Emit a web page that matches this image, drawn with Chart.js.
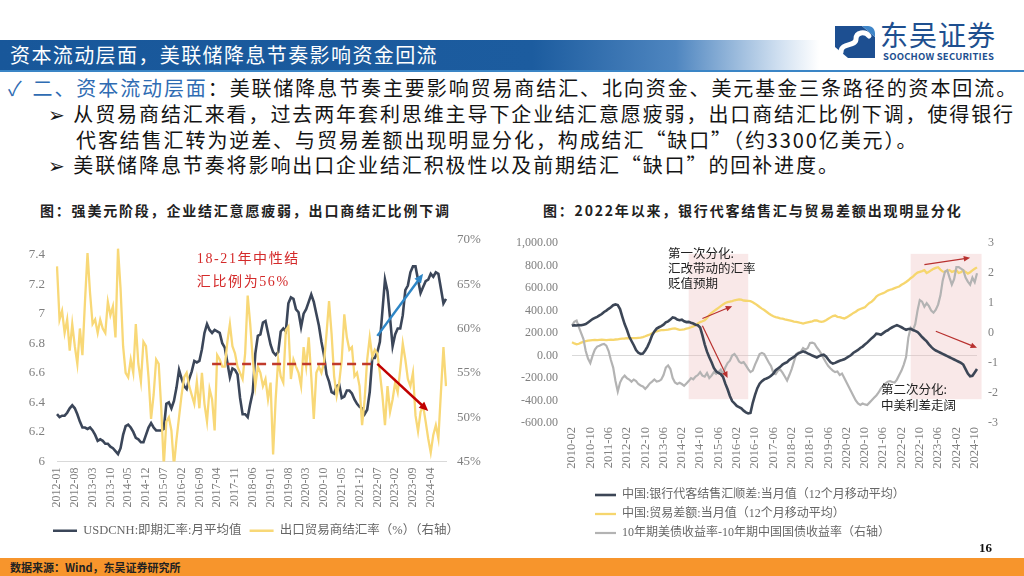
<!DOCTYPE html>
<html lang="zh-CN">
<head>
<meta charset="utf-8">
<title>资本流动层面，美联储降息节奏影响资金回流</title>
<script src="https://cdn.jsdelivr.net/npm/chart.js@4.4.1/dist/chart.umd.min.js"></script>
<style>
html,body{margin:0;padding:0;}
body{width:1024px;height:576px;overflow:hidden;background:#fff;position:relative;font-family:"Noto Sans CJK SC","Noto Sans",sans-serif;color:#141414;}
.a{position:absolute;white-space:nowrap;}
#band{left:0;top:40px;width:1024px;height:30px;background:linear-gradient(90deg,#18579a 0%,#1c5c9f 52%,#4f86c0 66%,#cfdff0 76%,#ffffff 80%);}
#bandline{left:0;top:70px;width:1024px;height:2px;background:#3a85c6;}
#title{left:10px;top:40px;height:30px;line-height:30px;font-size:20px;color:#fff;letter-spacing:1.4px;}
.txt{font-size:20px;line-height:26px;letter-spacing:1.9px;color:#141414;}
.blue{color:#2f6cb3;}
.ctitle{font-size:14px;font-weight:700;letter-spacing:1.8px;color:#222;line-height:20px;}
#footer{left:0;top:558px;width:1024px;height:18px;background:#f7952c;}
#src{left:10px;top:558px;line-height:18px;font-size:11px;font-weight:700;color:#222;}
#pg{left:979px;top:540px;font-size:13px;font-weight:700;font-family:"Liberation Serif",serif;color:#111;}
#logoTxt{left:880px;top:16px;font-size:28px;line-height:36px;color:#1e4f8f;letter-spacing:1px;}
#logoEn{left:883px;top:50px;font-size:9.5px;line-height:12px;font-weight:700;color:#1e4f8f;letter-spacing:0.2px;}
canvas{position:absolute;}
</style>
</head>
<body>
<div class="a" id="band"></div>
<div class="a" id="bandline"></div>
<div class="a" id="title">资本流动层面，美联储降息节奏影响资金回流</div>

<svg class="a" style="left:832px;top:23px" width="46" height="38" viewBox="0 0 46 38">
  <path d="M3 3 H30 L43 14 V35 H16 L3 24 Z" fill="#1d4f91"/>
  <path d="M9 29 C 9 19, 24 24, 24 16 C 24 9, 33 8, 37 13" stroke="#ffffff" stroke-width="5" fill="none" stroke-linecap="round"/>
  <path d="M30 3 H36 C 41 3, 43 7, 43 11 V14 Z" fill="#3f86c9"/>
</svg>
<div class="a" id="logoTxt">东吴证券</div>
<div class="a" id="logoEn">SOOCHOW SECURITIES</div>

<div class="a txt" style="left:8px;top:75px;"><span class="blue"><span style="margin-right:9px">✓</span>二、资本流动层面</span>：美联储降息节奏主要影响贸易商结汇、北向资金、美元基金三条路径的资本回流。</div>
<div class="a txt" style="left:48px;top:101px;">➢ 从贸易商结汇来看，过去两年套利思维主导下企业结汇意愿疲弱，出口商结汇比例下调，使得银行</div>
<div class="a txt" style="left:76px;top:127px;">代客结售汇转为逆差、与贸易差额出现明显分化，构成结汇“缺口”（约3300亿美元）。</div>
<div class="a txt" style="left:48px;top:152px;">➢ 美联储降息节奏将影响出口企业结汇积极性以及前期结汇“缺口”的回补进度。</div>

<div class="a ctitle" style="left:40px;top:200px;">图：强美元阶段，企业结汇意愿疲弱，出口商结汇比例下调</div>
<div class="a ctitle" style="left:543px;top:200px;">图：2022年以来，银行代客结售汇与贸易差额出现明显分化</div>

<canvas id="cL" width="500" height="330" style="left:0;top:220px;width:500px;height:330px;"></canvas>
<canvas id="cR" width="520" height="327" style="left:500px;top:222px;width:520px;height:327px;"></canvas>

<div class="a" id="pg">16</div>
<div class="a" id="footer"></div>
<div class="a" id="src">数据来源：Wind，东吴证券研究所</div>

<script>
// ---------------- LEFT CHART DATA (monthly, 2012-01 .. 2024-10) ----------------
const leftStart = [2012, 1];
const usdcnh = [
  6.32,6.30,6.31,6.31,6.33,6.36,6.38,6.36,6.32,6.27,6.23,6.23,
  6.22,6.23,6.21,6.18,6.14,6.15,6.14,6.12,6.12,6.10,6.09,6.07,
  6.05,6.09,6.18,6.24,6.25,6.23,6.20,6.16,6.15,6.13,6.13,6.18,
  6.23,6.26,6.23,6.21,6.21,6.21,6.22,6.39,6.40,6.36,6.41,6.50,
  6.62,6.56,6.51,6.49,6.56,6.61,6.68,6.67,6.68,6.76,6.87,6.93,
  6.89,6.87,6.89,6.88,6.87,6.80,6.77,6.67,6.57,6.63,6.62,6.59,
  6.43,6.32,6.32,6.30,6.39,6.47,6.73,6.85,6.86,6.94,6.95,6.87,
  6.79,6.74,6.72,6.74,6.88,6.90,6.88,7.07,7.11,7.10,7.03,7.01,
  6.91,7.00,7.03,7.08,7.13,7.08,7.00,6.92,6.81,6.72,6.59,6.54,
  6.47,6.46,6.51,6.52,6.43,6.44,6.48,6.48,6.46,6.42,6.39,6.37,
  6.36,6.32,6.35,6.47,6.70,6.70,6.74,6.81,7.02,7.23,7.15,6.97,
  6.78,6.86,6.90,6.90,6.99,7.16,7.19,7.28,7.32,7.32,7.23,7.14,
  7.18,7.22,7.23,7.27,7.25,7.28,7.27,7.17,7.07,7.10
];
const settleRatio = [
  67.0,61.0,62.0,59.5,61.0,57.5,60.5,58.0,56.0,60.0,57.0,63.0,
  68.5,64.0,60.5,61.0,59.5,61.0,60.0,59.5,63.0,61.5,62.5,59.0,
  69.0,64.5,58.0,55.0,54.5,56.5,55.0,60.5,56.0,54.0,58.5,58.0,
  54.5,49.8,52.5,56.5,56.0,51.0,44.5,49.5,50.0,48.5,44.5,47.5,
  50.0,52.5,54.5,55.0,53.5,52.5,51.5,54.0,51.0,55.0,51.5,49.5,
  53.2,52.0,48.5,57.0,56.5,55.7,55.7,58.5,60.5,58.0,57.2,55.7,
  55.0,54.3,57.2,63.7,60.5,56.5,53.5,55.7,55.0,53.5,54.3,52.0,
  53.9,45.8,52.0,56.5,54.6,53.9,59.8,60.2,54.3,56.5,55.7,55.0,
  53.5,57.9,55.7,59.0,54.6,49.8,55.0,55.7,55.0,56.1,59.4,63.1,
  59.4,54.6,52.4,53.9,56.5,61.6,59.0,57.6,57.9,54.6,55.0,53.5,
  49.1,52.0,56.5,59.0,56.8,57.6,57.2,55.0,52.4,49.1,53.5,50.6,
  52.0,53.9,52.8,55.4,58.3,56.5,54.3,53.5,55.0,50.2,48.4,50.6,
  51.3,49.5,47.6,46.0,48.0,49.1,47.6,52.8,57.9,53.5
];
const leftYTicks = [6, 6.2, 6.4, 6.6, 6.8, 7, 7.2, 7.4];
const leftY1Ticks = [45, 50, 55, 60, 65, 70];
const leftTickEvery = 7;
const leftSeriesNames = ['USDCNH:即期汇率:月平均值', '出口贸易商结汇率（%）（右轴）'];
const leftNote = ['18-21年中性结', '汇比例为56%'];

// ---------------- RIGHT CHART DATA (monthly, 2010-02 .. 2024-11) ----------------
const rightStart = [2010, 2];
const bankNet = [
  265,270,268,272,270,275,280,295,310,325,
  335,345,358,370,388,400,416,430,448,455,
  450,414,345,280,230,170,130,92,50,25,
  15,18,45,80,125,180,215,240,252,262,
  275,295,305,320,340,335,320,315,320,305,
  298,300,292,285,275,270,250,180,100,35,
  -15,-60,-110,-140,-155,-165,-190,-250,-300,-360,
  -405,-425,-448,-458,-470,-490,-505,-515,-510,-420,
  -350,-290,-250,-228,-212,-204,-195,-180,-161,-130,
  -115,-100,-80,-68,-58,-38,-25,-12,5,20,
  28,38,30,20,11,0,-8,-17,-5,2,
  8,-8,-35,-60,-72,-65,-55,-46,-40,-33,
  -20,-8,5,25,38,50,68,80,98,115,
  135,155,172,195,192,185,200,215,225,241,
  252,262,270,262,252,240,230,237,238,228,
  220,210,188,165,145,126,100,78,58,45,
  35,25,15,5,-5,-15,-25,-35,-45,-55,
  -65,-80,-120,-160,-185,-180,-150,-120
];
const tradeBal = [
  118,108,100,105,115,122,128,132,136,138,
  140,138,140,142,140,138,140,142,140,143,
  145,148,150,152,155,153,155,156,155,158,
  160,165,172,180,188,198,208,216,222,226,
  227,228,230,235,240,242,235,228,230,234,
  240,245,252,260,270,285,298,305,315,335,
  360,380,395,410,425,440,455,468,475,480,
  485,492,496,500,497,490,488,486,484,475,
  462,448,432,418,405,390,375,362,350,343,
  338,332,328,322,318,313,308,303,300,296,
  290,285,290,295,300,305,312,313,305,300,
  305,315,328,340,352,356,345,342,335,330,
  340,352,365,380,390,405,415,422,430,450,
  468,480,500,525,540,548,555,565,578,586,
  592,600,608,615,630,642,655,670,688,702,
  722,738,745,752,760,735,745,760,772,780,
  786,765,748,745,755,760,745,752,758,735,
  742,758,745,730,742,758,772,785
];
const yieldSpread = [
  0.25,0.38,0.42,0.2,0.0,-0.2,-0.6,-0.85,-1.0,-0.75,
  -0.55,-0.45,-0.42,-0.38,-0.36,-0.42,-0.6,-0.9,-1.15,-1.6,
  -1.95,-1.65,-1.5,-1.42,-1.5,-1.55,-1.62,-1.55,-1.6,-1.7,
  -1.75,-1.78,-1.86,-1.78,-1.68,-1.62,-1.55,-1.62,-1.6,-1.55,
  -1.4,-1.15,-1.08,-1.2,-1.5,-1.65,-1.7,-1.66,-1.7,-1.76,
  -1.68,-1.6,-1.5,-1.54,-1.45,-1.4,-1.3,-1.42,-1.45,-1.33,
  -1.5,-1.42,-1.3,-1.36,-1.3,-1.22,-1.36,-1.15,-1.0,-0.92,
  -0.75,-0.7,-0.8,-0.95,-1.0,-0.97,-1.08,-1.2,-1.3,-1.25,
  -1.05,-0.88,-0.7,-0.66,-0.7,-0.84,-0.98,-1.1,-1.33,-1.37,
  -1.25,-1.22,-1.32,-1.45,-1.58,-1.4,-1.2,-0.95,-0.7,-0.65,
  -0.62,-0.5,-0.55,-0.5,-0.33,-0.32,-0.35,-0.48,-0.58,-0.7,
  -0.85,-0.98,-1.1,-1.18,-1.25,-1.3,-1.28,-1.4,-1.35,-1.5,
  -1.65,-1.8,-1.95,-2.1,-2.25,-2.35,-2.4,-2.35,-2.38,-2.4,
  -2.32,-2.24,-2.16,-2.08,-1.98,-1.85,-1.78,-1.68,-1.62,-1.6,
  -1.63,-1.65,-1.55,-1.4,-1.25,-1.05,-0.8,-0.15,0.18,0.1,
  0.3,0.75,1.1,1.05,0.88,1.0,0.9,0.75,0.68,0.78,
  0.95,1.25,1.75,2.05,2.1,1.85,1.62,1.8,2.2,2.2,
  2.15,2.1,1.85,1.72,1.62,1.85,1.7,2.0
];
const rightYTicks = [-600, -400, -200, 0, 200, 400, 600, 800, 1000];
const rightY1Ticks = [-3, -2, -1, 0, 1, 2, 3];
const rightTickEvery = 8;
const rightSeriesNames = ['中国:银行代客结售汇顺差:当月值（12个月移动平均）', '中国:贸易差额:当月值（12个月移动平均）', '10年期美债收益率-10年期中国国债收益率（右轴）'];
const note1 = ['第一次分化:', '汇改带动的汇率', '贬值预期'];
const note2 = ['第二次分化:', '中美利差走阔'];

// ---------------- helpers ----------------
function monthLabels(start, count) {
  const out = [];
  for (let k = 0; k < count; k++) {
    const t = start[1] - 1 + k;
    out.push((start[0] + Math.floor(t / 12)) + '-' + String(t % 12 + 1).padStart(2, '0'));
  }
  return out;
}
function monthIndex(start, label) {
  const [y, m] = label.split('-').map(Number);
  return (y - start[0]) * 12 + (m - start[1]);
}
const leftLabels = monthLabels(leftStart, usdcnh.length);
const rightLabels = monthLabels(rightStart, bankNet.length);

const serif = '"Liberation Serif","Times New Roman","Noto Sans CJK SC",serif';
const tickColor = '#7f7f7f';

const legendShift = {
  id: 'legendShift',
  afterLayout(chart, args, opts) {
    if (chart.legend && opts && opts.dx) {
      chart.legend.left += opts.dx;
      chart.legend.right += opts.dx;
    }
  }
};

function drawArrow(ctx, x1, y1, x2, y2, color, width, head) {
  const ang = Math.atan2(y2 - y1, x2 - x1);
  ctx.save();
  ctx.strokeStyle = color; ctx.fillStyle = color; ctx.lineWidth = width;
  ctx.beginPath();
  ctx.moveTo(x1, y1);
  ctx.lineTo(x2 - Math.cos(ang) * head * 0.8, y2 - Math.sin(ang) * head * 0.8);
  ctx.stroke();
  ctx.beginPath();
  ctx.moveTo(x2, y2);
  ctx.lineTo(x2 - head * Math.cos(ang - 0.42), y2 - head * Math.sin(ang - 0.42));
  ctx.lineTo(x2 - head * Math.cos(ang + 0.42), y2 - head * Math.sin(ang + 0.42));
  ctx.closePath();
  ctx.fill();
  ctx.restore();
}

const annot = {
  id: 'annot',
  beforeDatasetsDraw(chart, args, o) {
    const ctx = chart.ctx, xs = chart.scales.x;
    (o.boxes || []).forEach(b => {
      const ys = chart.scales[b.axis];
      const x1 = xs.getPixelForValue(monthIndex(o.start, b.x1));
      const x2 = xs.getPixelForValue(monthIndex(o.start, b.x2));
      const y1 = ys.getPixelForValue(b.y1), y2 = ys.getPixelForValue(b.y2);
      ctx.save(); ctx.fillStyle = b.color;
      ctx.fillRect(x1, Math.min(y1, y2), x2 - x1, Math.abs(y2 - y1));
      ctx.restore();
    });
  },
  afterDatasetsDraw(chart, args, o) {
    const ctx = chart.ctx, xs = chart.scales.x;
    const P = (lab, axis, v) => [xs.getPixelForValue(monthIndex(o.start, lab)), chart.scales[axis].getPixelForValue(v)];
    (o.lines || []).forEach(l => {
      const [x1, y1] = P(l.x1, l.axis, l.y1), [x2, y2] = P(l.x2, l.axis, l.y2);
      ctx.save(); ctx.strokeStyle = l.color; ctx.lineWidth = l.width; ctx.setLineDash(l.dash || []);
      ctx.beginPath(); ctx.moveTo(x1, y1); ctx.lineTo(x2, y2); ctx.stroke(); ctx.restore();
    });
    (o.arrows || []).forEach(a => {
      const [x1, y1] = P(a.x1, a.axis, a.y1), [x2, y2] = P(a.x2, a.axis, a.y2);
      drawArrow(ctx, x1, y1, x2, y2, a.color, a.width, a.head);
    });
    (o.texts || []).forEach(t => {
      const [x, y] = P(t.x, t.axis, t.y);
      ctx.save();
      ctx.font = t.font;
      if (t.spacing) { ctx.letterSpacing = t.spacing; }
      ctx.textBaseline = 'middle'; ctx.textAlign = 'left';
      ctx.fillStyle = t.color;
      t.lines.forEach((s, k) => ctx.fillText(s, x, y + k * t.lh));
      ctx.restore();
    });
  }
};

// ---------------- LEFT CHART ----------------
new Chart(document.getElementById('cL'), {
  type: 'line',
  data: {
    labels: leftLabels,
    datasets: [
      { label: leftSeriesNames[0], data: usdcnh, yAxisID: 'y', borderColor: '#3b4659', backgroundColor: '#3b4659',
        borderWidth: 2.6, pointRadius: 0, tension: 0, order: 1 },
      { label: leftSeriesNames[1], data: settleRatio, yAxisID: 'y1', borderColor: '#f8d877', backgroundColor: '#f8d877',
        borderWidth: 2.3, pointRadius: 0, tension: 0, order: 0 }
    ]
  },
  options: {
    responsive: false, animation: false, maintainAspectRatio: false,
    layout: { padding: { top: 17, bottom: 3, left: 0, right: 0 } },
    plugins: {
      legend: {
        position: 'bottom', align: 'start',
        labels: { usePointStyle: true, pointStyle: 'line', pointStyleWidth: 24, padding: 8,
          font: { family: serif, size: 12.5 }, color: '#666',
          sort: (a, b) => a.datasetIndex - b.datasetIndex }
      },
      tooltip: { enabled: false },
      legendShift: { dx: 45 },
      annot: {
        start: leftStart,
        lines: [ { x1: '2017-02', x2: '2022-07', axis: 'y1', y1: 56, y2: 56, color: '#c0392b', width: 2.6, dash: [9, 6] } ],
        arrows: [
          { x1: '2022-07', y1: 56, x2: '2024-03', y2: 50.7, axis: 'y1', color: '#c00000', width: 2.5, head: 10 },
          { x1: '2022-07', y1: 6.85, x2: '2024-01', y2: 7.27, axis: 'y', color: '#2e86c6', width: 2.5, head: 10 }
        ],
        texts: [ { x: '2016-08', y: 7.37, axis: 'y', lines: leftNote, lh: 23, color: '#d42a2a',
          font: '14px "Liberation Serif","Noto Sans CJK SC"', spacing: '1.6px' } ]
      }
    },
    scales: {
      x: {
        type: 'category', offset: false,
        grid: { display: false, drawTicks: false },
        border: { display: true, color: '#d9d9d9', width: 1 },
        ticks: { autoSkip: false, maxRotation: 90, minRotation: 90, padding: 6,
          callback: (v, i) => (i % leftTickEvery === 0 ? leftLabels[i] : null),
          font: { family: serif, size: 12 }, color: tickColor },
        afterFit: s => { s.height = 55; }
      },
      y: {
        position: 'left', min: 6, max: 7.5,
        grid: { display: false, drawTicks: false }, border: { display: false },
        afterBuildTicks: s => { s.ticks = leftYTicks.map(v => ({ value: v })); },
        ticks: { padding: 12, font: { family: serif, size: 13 }, color: tickColor,
          callback: v => String(Math.round(v * 10) / 10) },
        afterFit: s => { s.width = 57; }
      },
      y1: {
        position: 'right', min: 45, max: 70,
        grid: { display: false, drawTicks: false }, border: { display: false },
        afterBuildTicks: s => { s.ticks = leftY1Ticks.map(v => ({ value: v })); },
        ticks: { padding: 11, font: { family: serif, size: 13 }, color: tickColor, callback: v => v + '%' },
        afterFit: s => { s.width = 54; }
      }
    }
  },
  plugins: [legendShift, annot]
});

// ---------------- RIGHT CHART ----------------
new Chart(document.getElementById('cR'), {
  type: 'line',
  data: {
    labels: rightLabels,
    datasets: [
      { label: rightSeriesNames[0], data: bankNet, yAxisID: 'y', borderColor: '#3c4656', backgroundColor: '#3c4656',
        borderWidth: 2.6, pointRadius: 0, tension: 0, order: 0 },
      { label: rightSeriesNames[1], data: tradeBal, yAxisID: 'y', borderColor: '#f6d66e', backgroundColor: '#f6d66e',
        borderWidth: 2.3, pointRadius: 0, tension: 0, order: 2 },
      { label: rightSeriesNames[2], data: yieldSpread, yAxisID: 'y1', borderColor: '#b3b3b3', backgroundColor: '#b3b3b3',
        borderWidth: 2.2, pointRadius: 0, tension: 0, order: 1 }
    ]
  },
  options: {
    responsive: false, animation: false, maintainAspectRatio: false,
    layout: { padding: { top: 15, bottom: 0, left: 0, right: 0 } },
    plugins: {
      legend: {
        position: 'bottom', align: 'start',
        labels: { usePointStyle: true, pointStyle: 'line', pointStyleWidth: 21, padding: 7,
          font: { family: serif, size: 12 }, color: '#666',
          sort: (a, b) => a.datasetIndex - b.datasetIndex }
      },
      tooltip: { enabled: false },
      legendShift: { dx: 88 },
      annot: {
        start: rightStart,
        boxes: [
          { x1: '2014-05', x2: '2016-07', axis: 'y', y1: 905, y2: -388, color: 'rgba(238,190,190,0.35)' },
          { x1: '2022-06', x2: '2025-01', axis: 'y', y1: 905, y2: -388, color: 'rgba(238,190,190,0.35)' }
        ],
        arrows: [
          { x1: '2014-11', y1: 330, x2: '2015-12', y2: 440, axis: 'y', color: '#b8312f', width: 1.2, head: 7 },
          { x1: '2014-11', y1: 265, x2: '2015-10', y2: -200, axis: 'y', color: '#b8312f', width: 1.2, head: 7 },
          { x1: '2022-12', y1: 810, x2: '2024-08', y2: 870, axis: 'y', color: '#b8312f', width: 1.2, head: 7 },
          { x1: '2023-05', y1: 216, x2: '2024-11', y2: 70, axis: 'y', color: '#b8312f', width: 1.2, head: 7 }
        ],
        texts: [
          { x: '2013-08', y: 914, axis: 'y', lines: note1, lh: 15, color: '#222', font: '12.5px "Noto Sans CJK SC"' },
          { x: '2021-05', y: -302, axis: 'y', lines: note2, lh: 16, color: '#222', font: '12.5px "Noto Sans CJK SC"' }
        ]
      }
    },
    scales: {
      x: {
        type: 'category', offset: false,
        grid: { display: false, drawTicks: false },
        border: { display: false },
        ticks: { autoSkip: false, maxRotation: 90, minRotation: 90, padding: 4,
          callback: (v, i) => (i % rightTickEvery === 0 ? rightLabels[i] : null),
          font: { family: serif, size: 12.5 }, color: tickColor },
        afterFit: s => { s.height = 59; }
      },
      y: {
        position: 'left', min: -600, max: 1000,
        grid: { display: true, drawTicks: false, lineWidth: 1,
          color: c => (c.tick && c.tick.value === 0 ? '#d9d9d9' : 'rgba(0,0,0,0)') },
        border: { display: false },
        afterBuildTicks: s => { s.ticks = rightYTicks.map(v => ({ value: v })); },
        ticks: { padding: 14, font: { family: serif, size: 12 }, color: tickColor,
          callback: v => v.toLocaleString('en-US', { minimumFractionDigits: 2, maximumFractionDigits: 2 }) },
        afterFit: s => { s.width = 72; }
      },
      y1: {
        position: 'right', min: -3, max: 3,
        grid: { display: false, drawTicks: false }, border: { display: false },
        afterBuildTicks: s => { s.ticks = rightY1Ticks.map(v => ({ value: v })); },
        ticks: { padding: 11, font: { family: serif, size: 12 }, color: tickColor },
        afterFit: s => { s.width = 43; }
      }
    }
  },
  plugins: [legendShift, annot]
});
</script>
</body>
</html>
